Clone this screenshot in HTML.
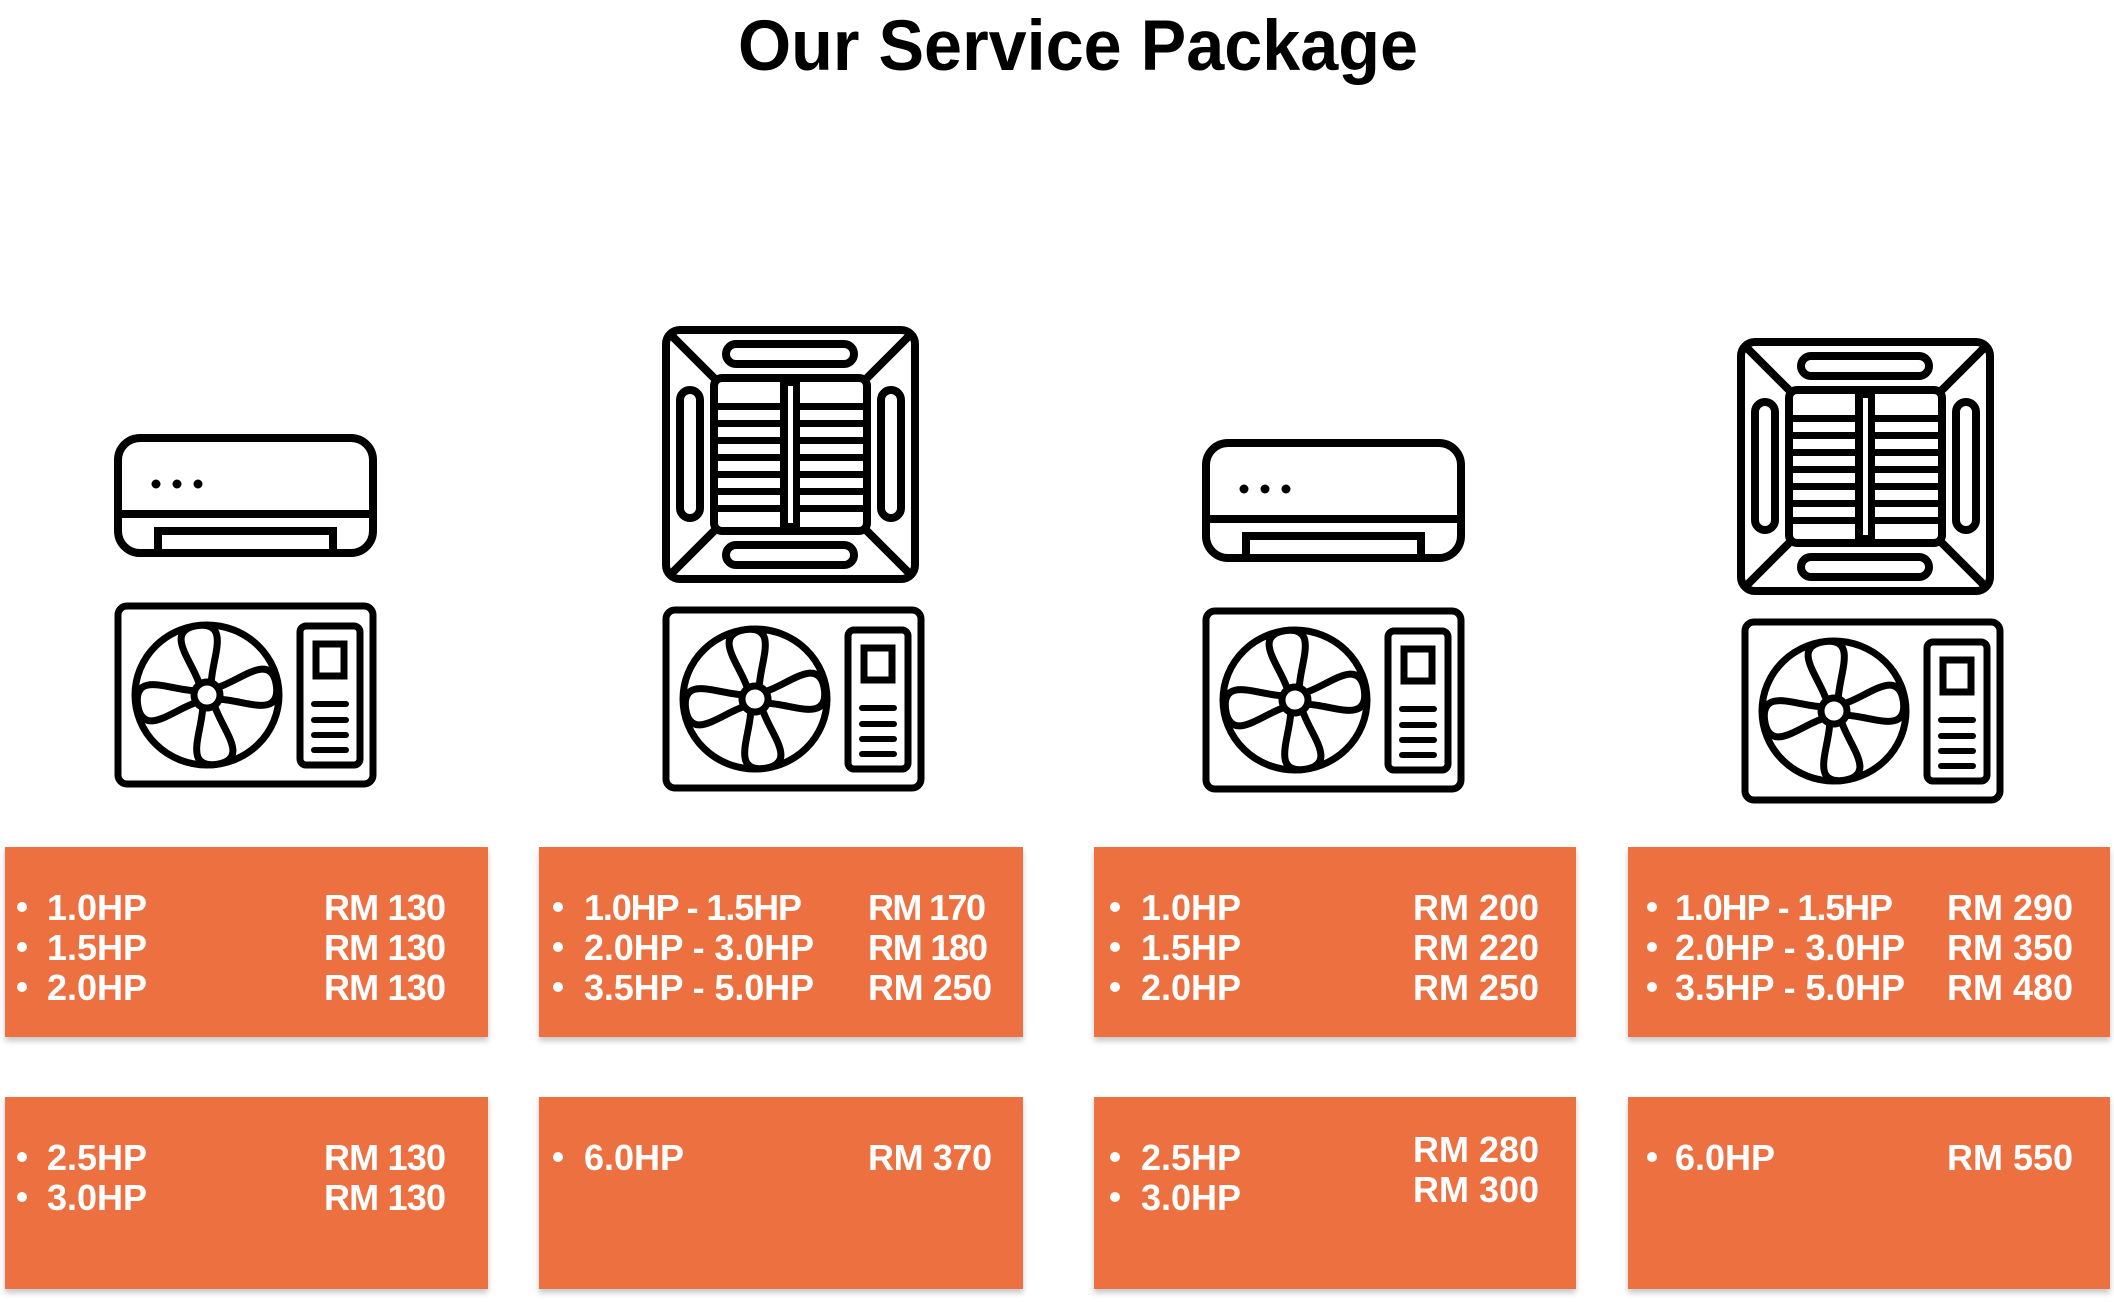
<!DOCTYPE html>
<html><head><meta charset="utf-8"><style>
html,body{margin:0;padding:0;background:#fff;}
svg{display:block;}
</style></head><body>
<svg width="2114" height="1302" viewBox="0 0 2114 1302" xmlns="http://www.w3.org/2000/svg">
<defs>
<filter id="sh" x="-5%" y="-5%" width="110%" height="115%"><feDropShadow dx="0" dy="4" stdDeviation="3" flood-color="#000" flood-opacity="0.22"/></filter>
<g id="indoor" fill="none" stroke="#000" stroke-width="8">
  <rect x="4" y="4" width="255" height="115" rx="22"/>
  <line x1="4" y1="80" x2="259" y2="80"/>
  <path d="M44 119 V97 H219 V119"/>
  <circle cx="42" cy="50" r="4.5" fill="#000" stroke="none"/>
  <circle cx="63" cy="50" r="4.5" fill="#000" stroke="none"/>
  <circle cx="84" cy="50" r="4.5" fill="#000" stroke="none"/>
</g>
<g id="petal">
  <path d="M-6 -12 C-9 -28 -19 -46 -18 -58 Q-17 -70 0 -70 Q17 -70 18 -58 C19 -46 9 -28 6 -12 Z" fill="#fff" stroke="#000" stroke-width="7" stroke-linejoin="round"/>
</g>
<g id="outdoor" fill="none" stroke="#000" stroke-width="7">
  <rect x="4" y="4" width="255" height="178" rx="9"/>
  <ellipse cx="93" cy="93" rx="72" ry="70"/>
  <g transform="translate(93 93) rotate(-8)">
    <use href="#petal"/>
    <use href="#petal" transform="rotate(90)"/>
    <use href="#petal" transform="rotate(180)"/>
    <use href="#petal" transform="rotate(270)"/>
    <circle r="13" fill="#fff" stroke="#000" stroke-width="7"/>
  </g>
  <rect x="186" y="24" width="60" height="139" rx="6"/>
  <rect x="202" y="42" width="28" height="32"/>
  <line x1="200" y1="102" x2="232" y2="102" stroke-width="6" stroke-linecap="round"/>
  <line x1="200" y1="118" x2="232" y2="118" stroke-width="6" stroke-linecap="round"/>
  <line x1="200" y1="133" x2="232" y2="133" stroke-width="6" stroke-linecap="round"/>
  <line x1="200" y1="148" x2="232" y2="148" stroke-width="6" stroke-linecap="round"/>
</g>
<g id="cassette" fill="none" stroke="#000" stroke-width="8">
  <rect x="4" y="4" width="249" height="249" rx="14"/>
  <line x1="8" y1="8" x2="52" y2="52"/>
  <line x1="249" y1="8" x2="205" y2="52"/>
  <line x1="8" y1="249" x2="52" y2="205"/>
  <line x1="249" y1="249" x2="205" y2="205"/>
  <rect x="52" y="52" width="153" height="153" rx="8"/>
  <rect x="64" y="18" width="128" height="20" rx="10"/>
  <rect x="64" y="219" width="128" height="20" rx="10"/>
  <rect x="18" y="64" width="20" height="128" rx="10"/>
  <rect x="219" y="64" width="20" height="128" rx="10"/>
  <g fill="#000" stroke="none">
    <rect x="118" y="52" width="20" height="153"/>
    <rect x="52" y="77" width="153" height="7"/>
    <rect x="52" y="94" width="153" height="7"/>
    <rect x="52" y="111" width="153" height="7"/>
    <rect x="52" y="128" width="153" height="7"/>
    <rect x="52" y="145" width="153" height="7"/>
    <rect x="52" y="162" width="153" height="7"/>
    <rect x="52" y="179" width="153" height="7"/>
  </g>
  <rect x="126" y="60" width="5" height="137" fill="#fff" stroke="none"/>
</g>
</defs>

<text x="1078" y="70" text-anchor="middle" font-family="Liberation Sans, sans-serif" font-weight="bold" font-size="71" textLength="680" lengthAdjust="spacingAndGlyphs">Our Service Package</text>

<use href="#indoor" x="114" y="434"/>
<use href="#outdoor" x="114" y="602"/>
<use href="#cassette" x="662" y="326"/>
<use href="#outdoor" x="662" y="606"/>
<use href="#indoor" x="1202" y="439"/>
<use href="#outdoor" x="1202" y="607"/>
<use href="#cassette" x="1737" y="338"/>
<use href="#outdoor" x="1741" y="618"/>

<g fill="#EC7040" filter="url(#sh)">
  <rect x="5" y="847" width="483" height="190"/>
  <rect x="539" y="847" width="484" height="190"/>
  <rect x="1094" y="847" width="482" height="190"/>
  <rect x="1628" y="847" width="482" height="190"/>
  <rect x="5" y="1097" width="483" height="192"/>
  <rect x="539" y="1097" width="484" height="192"/>
  <rect x="1094" y="1097" width="482" height="192"/>
  <rect x="1628" y="1097" width="482" height="192"/>
</g>

<g fill="#fff" font-family="Liberation Sans, sans-serif" font-weight="bold" font-size="36">
  <g transform="translate(5 0)">
    <circle cx="17" cy="907" r="5"/><circle cx="17" cy="947" r="5"/><circle cx="17" cy="987" r="5"/>
    <text x="42" y="920">1.0HP</text><text x="42" y="960">1.5HP</text><text x="42" y="1000">2.0HP</text>
    <text x="319" y="920" textLength="122">RM 130</text><text x="319" y="960" textLength="122">RM 130</text><text x="319" y="1000" textLength="122">RM 130</text>
    <circle cx="17" cy="1157" r="5"/><circle cx="17" cy="1197" r="5"/>
    <text x="42" y="1170">2.5HP</text><text x="42" y="1210">3.0HP</text>
    <text x="319" y="1170" textLength="122">RM 130</text><text x="319" y="1210" textLength="122">RM 130</text>
  </g>
  <g transform="translate(539 0)">
    <circle cx="19" cy="907" r="5"/><circle cx="19" cy="947" r="5"/><circle cx="19" cy="987" r="5"/>
    <text x="45" y="920" textLength="218">1.0HP - 1.5HP</text><text x="45" y="960" textLength="230">2.0HP - 3.0HP</text><text x="45" y="1000" textLength="230">3.5HP - 5.0HP</text>
    <text x="329" y="920" textLength="118">RM 170</text><text x="329" y="960" textLength="120">RM 180</text><text x="329" y="1000" textLength="124">RM 250</text>
    <circle cx="19" cy="1157" r="5"/>
    <text x="45" y="1170">6.0HP</text>
    <text x="329" y="1170" textLength="124">RM 370</text>
  </g>
  <g transform="translate(1094 0)">
    <circle cx="21" cy="907" r="5"/><circle cx="21" cy="947" r="5"/><circle cx="21" cy="987" r="5"/>
    <text x="47" y="920">1.0HP</text><text x="47" y="960">1.5HP</text><text x="47" y="1000">2.0HP</text>
    <text x="319" y="920" textLength="126">RM 200</text><text x="319" y="960" textLength="126">RM 220</text><text x="319" y="1000" textLength="126">RM 250</text>
    <circle cx="21" cy="1157" r="5"/><circle cx="21" cy="1197" r="5"/>
    <text x="47" y="1170">2.5HP</text><text x="47" y="1210">3.0HP</text>
    <text x="319" y="1162" textLength="126">RM 280</text><text x="319" y="1202" textLength="126">RM 300</text>
  </g>
  <g transform="translate(1628 0)">
    <circle cx="24" cy="907" r="5"/><circle cx="24" cy="947" r="5"/><circle cx="24" cy="987" r="5"/>
    <text x="47" y="920" textLength="218">1.0HP - 1.5HP</text><text x="47" y="960" textLength="230">2.0HP - 3.0HP</text><text x="47" y="1000" textLength="230">3.5HP - 5.0HP</text>
    <text x="319" y="920" textLength="126">RM 290</text><text x="319" y="960" textLength="126">RM 350</text><text x="319" y="1000" textLength="126">RM 480</text>
    <circle cx="24" cy="1157" r="5"/>
    <text x="47" y="1170">6.0HP</text>
    <text x="319" y="1170" textLength="126">RM 550</text>
  </g>
</g>
</svg>
</body></html>
